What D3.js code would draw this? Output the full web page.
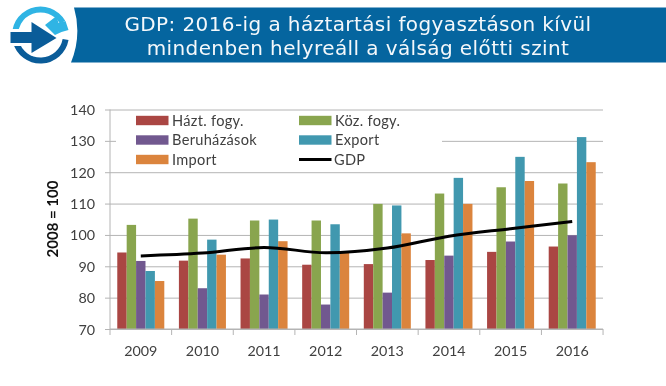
<!DOCTYPE html>
<html lang="en">
<head>
  <meta charset="UTF-8">
  <title>GDP 2016</title>
  <style>
    html, body { margin: 0; padding: 0; background: #fff; overflow: hidden; }
    svg { display: block; filter: blur(0.35px); }
    text { font-family: Lato, sans-serif; fill: #404040; }
    .title text { font-family: "DejaVu Sans", sans-serif; fill: #f4f8fb; font-size: 20px; letter-spacing: 0.4px; }
    .axis text { font-size: 14.3px; }
    .axis line, .axis path { stroke: #b4b4b4; }
  </style>
</head>
<body>
  <script src="https://d3js.org/d3.v7.min.js"></script>
  <script>
    const years = ["2009", "2010", "2011", "2012", "2013", "2014", "2015", "2016"];
    const haztFogy = [94.4, 91.8, 92.5, 90.5, 90.7, 92.0, 94.6, 96.3];
    const kozFogy = [103.2, 105.2, 104.6, 104.6, 109.9, 113.2, 115.2, 116.4];
    const beruhazasok = [91.7, 83.0, 81.0, 77.8, 81.6, 93.4, 97.9, 99.9];
    const exportVals = [88.5, 98.5, 104.9, 103.4, 109.4, 118.2, 124.9, 131.2];
    const importVals = [85.3, 93.7, 98.0, 94.6, 100.5, 109.9, 117.2, 123.2];
    const gdp = [93.3, 94.2, 96.0, 94.3, 95.8, 99.6, 102.0, 104.3];
    const yTicks = [70, 80, 90, 100, 110, 120, 130, 140];
    const titleLines = ["GDP: 2016-ig a háztartási fogyasztáson kívül", "mindenben helyreáll a válság előtti szint"];

    const series = [
      { name: "Házt. fogy.", color: "#aa4643", values: haztFogy },
      { name: "Köz. fogy.", color: "#89a54e", values: kozFogy },
      { name: "Beruházások", color: "#71588f", values: beruhazasok },
      { name: "Export", color: "#4198af", values: exportVals },
      { name: "Import", color: "#db843d", values: importVals }
    ];

    const svg = d3.select("body").append("svg").attr("width", 666).attr("height", 386);

    // header banner
    svg.append("path")
      .attr("d", "M74,7.5 L666,7.5 L666,62.5 L71,62.5 Q82,35 74,7.5 Z")
      .attr("fill", "#05659f");
    const title = svg.append("g").attr("class", "title");
    title.selectAll("text").data(titleLines).enter().append("text")
      .attr("x", 358)
      .attr("y", (d, i) => 30.5 + i * 24.5)
      .attr("text-anchor", "middle")
      .text(d => d);

    // logo
    const logo = svg.append("g").attr("transform", "translate(40.5,35)");
    const arc = d3.arc().innerRadius(22.5).outerRadius(28.5);
    logo.append("path").attr("fill", "#2fb4e4")
      .attr("d", arc({ startAngle: -1.75, endAngle: 1.05 }));
    logo.append("path").attr("fill", "#0a5c99")
      .attr("d", arc({ startAngle: 1.75, endAngle: 4.45 }));
    logo.append("path").attr("fill", "#fff").attr("d", "M-31,-6 L-9,-6 L-9,-14 L18,3 L-9,21 L-9,11 L-31,11 Z");
    logo.append("path").attr("fill", "#0a5c99").attr("d", "M-30,-3 L-9,-3 L-9,-13 L16,3 L-9,18 L-9,8 L-30,8 Z");
    logo.append("path").attr("fill", "#2fb4e4").attr("d", "M4.5,-10 L16,-19 L18,-12 L25,-14 L28,-5 L21,-3 L14.5,0 Z");

    // chart
    const x = d3.scaleBand().domain(years).range([110, 603]).paddingInner(0.237).paddingOuter(0.118);
    const y = d3.scaleLinear().domain([70, 140]).range([329, 109.5]);
    const inner = d3.scaleBand().domain(series.map(d => d.name)).range([0, x.bandwidth()]);

    svg.append("g").attr("class", "axis")
      .attr("transform", "translate(110,0)")
      .call(d3.axisLeft(y).tickValues(yTicks).tickSize(5).tickPadding(10))
      .call(g => g.selectAll(".tick line").clone().attr("x2", 493).attr("stroke", "#b4b4b4"))
      .call(g => g.select(".domain").attr("d", "M0,109.5V329"))
      .call(g => g.selectAll(".tick text").attr("dy", "0.35em"));

    // legend box hides the gridline behind it
    svg.append("rect").attr("x", 116).attr("y", 111).attr("width", 326).attr("height", 56).attr("fill", "#fff");

    series.forEach(s => {
      svg.append("g").selectAll("rect").data(s.values).enter().append("rect")
        .attr("x", (d, i) => x(years[i]) + inner(s.name))
        .attr("y", d => y(d))
        .attr("width", inner.bandwidth())
        .attr("height", d => y(70) - y(d))
        .attr("fill", s.color);
    });

    const xAxis = svg.append("g").attr("class", "axis")
      .attr("transform", "translate(0,329)")
      .call(d3.axisBottom(x).tickSize(0).tickPadding(17));
    xAxis.select(".domain").attr("d", "M110,0H603");
    xAxis.selectAll(".boundary").data(d3.range(years.length + 1)).enter().append("line")
      .attr("class", "boundary")
      .attr("x1", i => 110 + i * x.step()).attr("x2", i => 110 + i * x.step())
      .attr("y1", 0).attr("y2", 6);

    svg.append("path").datum(gdp)
      .attr("fill", "none").attr("stroke", "#000").attr("stroke-width", 3)
      .attr("d", d3.line()
        .x((d, i) => x(years[i]) + x.bandwidth() / 2)
        .y(d => y(d))
        .curve(d3.curveCatmullRom));

    // y axis title
    svg.append("text")
      .attr("transform", "translate(58,219) rotate(-90)")
      .attr("text-anchor", "middle")
      .attr("font-weight", "bold")
      .attr("font-size", 15)
      .style("fill", "#111")
      .text("2008 = 100");

    // legend
    const legendItems = [...series.map(d => ({ name: d.name, color: d.color })), { name: "GDP", color: "#000", line: true }];
    const legendX = [136, 299];
    const legendY = [120.5, 140, 159.5];
    const legend = svg.append("g").selectAll("g").data(legendItems).enter().append("g")
      .attr("transform", (d, i) => `translate(${legendX[i % 2]},${legendY[Math.floor(i / 2)]})`);
    legend.append("rect")
      .attr("y", d => d.line ? -1.5 : -4.7)
      .attr("width", 32.5)
      .attr("height", d => d.line ? 3 : 9.4)
      .attr("fill", d => d.color);
    legend.append("text")
      .attr("x", d => d.line ? 35 : 36)
      .attr("dy", "0.35em")
      .attr("font-size", 14.6)
      .attr("letter-spacing", 0.3)
      .text(d => d.name);
  </script>
</body>
</html>
